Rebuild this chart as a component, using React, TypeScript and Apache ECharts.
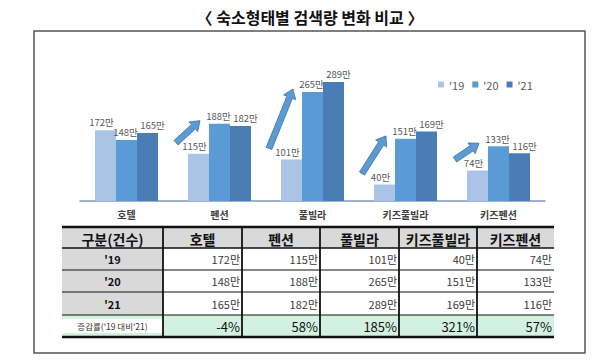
import React, { useEffect, useRef } from "react";
import * as echarts from "echarts";

const categories = ["호텔", "펜션", "풀빌라", "키즈풀빌라", "키즈펜션"];
const seriesNames = ["'19", "'20", "'21"];
const values19 = [172, 115, 101, 40, 74];
const values20 = [148, 188, 265, 151, 133];
const values21 = [165, 182, 289, 169, 116];
const growthPct = [-4, 58, 185, 321, 57];
const arrowCategories = [1, 2, 3, 4];
const tableHeaderFirst = "구분(건수)";
const tableGrowthLabel = "증감률('19 대비'21)";
const unit = "만";

const FONT = "'Noto Sans CJK KR', 'Noto Sans', sans-serif";
const COLORS = ["#aac4e6", "#5b9bd5", "#4a7db5"];
const LABEL_SHIFT = [-4, -1, 5];

export default function App() {
  const ref = useRef<HTMLDivElement>(null);
  useEffect(() => {
    document.body.style.margin = "0";
    const chart = echarts.init(ref.current!, null, { renderer: "svg" });
    const allSeries = [values19, values20, values21];
    chart.setOption({
      animation: false,
      textStyle: { fontFamily: FONT },
      grid: { left: 80, width: 465, top: 57, height: 144 },
      legend: {
        data: seriesNames,
        left: 433,
        top: 74,
        icon: "rect",
        itemWidth: 6,
        itemHeight: 6,
        itemGap: 8,
        textStyle: { fontSize: 11, color: "#595959", fontFamily: FONT },
      },
      xAxis: {
        type: "category",
        data: categories,
        axisLine: { lineStyle: { color: "#8096c0", width: 1.5 } },
        axisTick: { show: false },
        axisLabel: { fontSize: 10, fontWeight: "bold", color: "#404040", margin: 8, fontFamily: FONT },
      },
      yAxis: { type: "value", min: 0, max: 350, show: false, splitLine: { show: false } },
      series: allSeries.map((vals, i) => ({
        name: seriesNames[i],
        type: "bar",
        data: vals,
        barWidth: 21,
        barGap: "0%",
        itemStyle: { color: COLORS[i] },
        label: {
          show: true,
          position: "top",
          distance: 3,
          offset: [LABEL_SHIFT[i], 0],
          fontSize: 9.5,
          color: "#595959",
          fontFamily: FONT,
          formatter: (p: any) => p.value + unit,
        },
      })),
    });

    const graphic: any[] = [];
    graphic.push({
      type: "rect",
      shape: { x: 34, y: 31, width: 551, height: 322 },
      style: { fill: "none", stroke: "#555", lineWidth: 1.5 },
      z: 0,
    });
    graphic.push({
      type: "text",
      x: 310,
      y: 17,
      style: {
        text: "〈 숙소형태별 검색량 변화 비교 〉",
        fontSize: 16,
        fontWeight: "bold",
        fill: "#111",
        fontFamily: FONT,
        align: "center",
        verticalAlign: "middle",
      },
    });

    // arrows anchored to the bars' data positions
    const half = 21 / 2;
    arrowCategories.forEach((ci) => {
      const p19 = chart.convertToPixel({ gridIndex: 0 }, [ci, values19[ci]]) as number[];
      const p20 = chart.convertToPixel({ gridIndex: 0 }, [ci, values20[ci]]) as number[];
      const left19 = p19[0] - 21 - half;
      const left20 = p20[0] - half;
      const tail = [left19 - 12, p19[1] - 11];
      const tip = [left20 - 9, p20[1] - 3];
      const dx = tip[0] - tail[0];
      const dy = tip[1] - tail[1];
      const len = Math.sqrt(dx * dx + dy * dy);
      const ux = dx / len, uy = dy / len;
      const nx = -uy, ny = ux;
      const sw = 3, hw = 6.5, hl = 9;
      const hx = tip[0] - ux * hl, hy = tip[1] - uy * hl;
      const pts = [
        [tail[0] + nx * sw, tail[1] + ny * sw],
        [hx + nx * sw, hy + ny * sw],
        [hx + nx * hw, hy + ny * hw],
        [tip[0], tip[1]],
        [hx - nx * hw, hy - ny * hw],
        [hx - nx * sw, hy - ny * sw],
        [tail[0] - nx * sw, tail[1] - ny * sw],
      ];
      graphic.push({
        type: "polygon",
        shape: { points: pts },
        style: { fill: "#5b9bd5", stroke: "#41719c", lineWidth: 0.8 },
        z: 10,
      });
    });

    // table
    const colX = [62, 163, 242, 320, 399, 477, 554];
    const rowY = [227, 248, 270, 292, 315, 337];
    const rows = [values19, values20, values21];
    graphic.push({
      type: "rect",
      shape: { x: colX[0], y: rowY[0], width: colX[6] - colX[0], height: rowY[1] - rowY[0] },
      style: { fill: "#d9d9d9" },
    });
    graphic.push({
      type: "rect",
      shape: { x: colX[0], y: rowY[1], width: colX[1] - colX[0], height: rowY[4] - rowY[1] },
      style: { fill: "#d9d9d9" },
    });
    graphic.push({
      type: "rect",
      shape: { x: colX[0], y: rowY[4], width: colX[6] - colX[0], height: rowY[5] - rowY[4] },
      style: { fill: "#d3f1e2" },
    });
    graphic.push({
      type: "rect",
      shape: { x: colX[0], y: rowY[4] + 4, width: colX[1] - colX[0], height: rowY[5] - rowY[4] - 8 },
      style: { fill: "#ffffff" },
    });
    const headerTexts = [tableHeaderFirst, ...categories];
    headerTexts.forEach((t, c) => {
      graphic.push({
        type: "text",
        x: (colX[c] + colX[c + 1]) / 2,
        y: (rowY[0] + rowY[1]) / 2 + 1,
        style: {
          text: t,
          fontSize: 14,
          fontWeight: "bold",
          fill: "#111",
          fontFamily: FONT,
          align: "center",
          verticalAlign: "middle",
        },
      });
    });
    rows.forEach((vals, r) => {
      const yc = (rowY[r + 1] + rowY[r + 2]) / 2;
      graphic.push({
        type: "text",
        x: (colX[0] + colX[1]) / 2,
        y: yc,
        style: {
          text: seriesNames[r],
          fontSize: 11,
          fontWeight: "bold",
          fill: "#111",
          fontFamily: FONT,
          align: "center",
          verticalAlign: "middle",
        },
      });
      vals.forEach((v, c) => {
        graphic.push({
          type: "text",
          x: colX[c + 2] - 2,
          y: yc,
          style: {
            text: v + unit,
            fontSize: 11,
            fill: "#3a3a3a",
            fontFamily: FONT,
            align: "right",
            verticalAlign: "middle",
          },
        });
      });
    });
    const gy = (rowY[4] + rowY[5]) / 2;
    graphic.push({
      type: "text",
      x: (colX[0] + colX[1]) / 2,
      y: gy,
      style: {
        text: tableGrowthLabel,
        fontSize: 8.5,
        fill: "#333",
        fontFamily: FONT,
        align: "center",
        verticalAlign: "middle",
      },
    });
    growthPct.forEach((g, c) => {
      graphic.push({
        type: "text",
        x: colX[c + 2] - 2,
        y: gy,
        style: {
          text: g + "%",
          fontSize: 13,
          fill: "#111",
          fontFamily: FONT,
          align: "right",
          verticalAlign: "middle",
        },
      });
    });
    const hWidths = [2.5, 1.5, 1, 1, 1, 2.5];
    rowY.forEach((y, i) => {
      graphic.push({
        type: "line",
        shape: { x1: colX[0], y1: y, x2: colX[6], y2: y },
        style: { stroke: "#111", lineWidth: hWidths[i] },
      });
    });
    for (let c = 1; c < colX.length - 1; c++) {
      graphic.push({
        type: "line",
        shape: { x1: colX[c], y1: rowY[0], x2: colX[c], y2: rowY[5] },
        style: { stroke: "#111", lineWidth: 1.8 },
      });
    }

    chart.setOption({ graphic });
    return () => chart.dispose();
  }, []);
  return <div ref={ref} style={{ width: 600, height: 363 }} />;
}
